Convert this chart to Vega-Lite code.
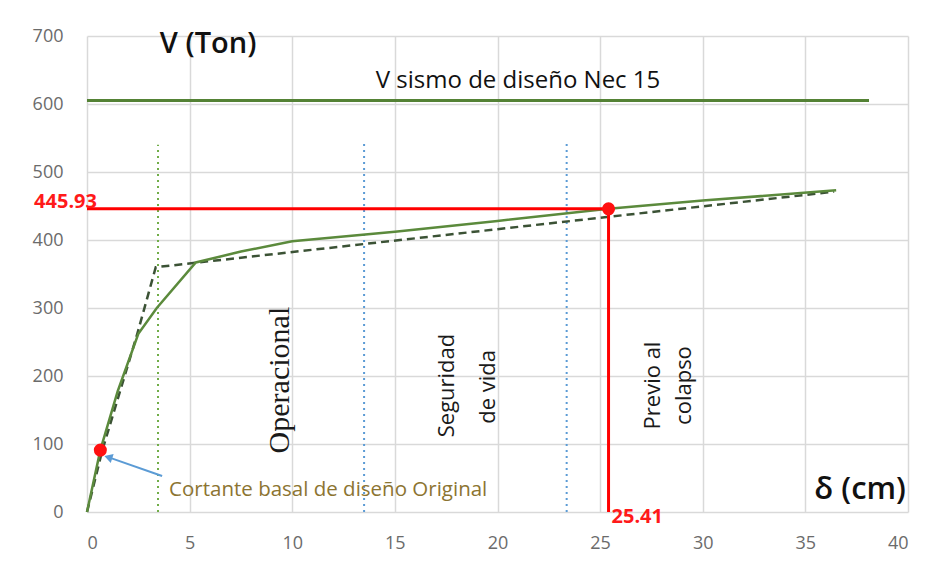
{
  "$schema": "https://vega.github.io/schema/vega-lite/v6.json",
  "width": 821,
  "height": 476,
  "autosize": {"type": "none"},
  "padding": {"left": 87, "top": 36, "right": 29, "bottom": 57},
  "background": "white",
  "config": {
    "view": {"stroke": null},
    "axis": {
      "grid": true,
      "gridColor": "#d9d9d9",
      "gridWidth": 1.5,
      "domain": false,
      "ticks": false,
      "labelFont": "Open Sans",
      "labelFontSize": 18,
      "labelColor": "#6b6b6b",
      "title": null
    }
  },
  "datasets": {
    "curve": [
      {"x": 0, "y": 0}, {"x": 0.65, "y": 91}, {"x": 1.5, "y": 178}, {"x": 2.5, "y": 262},
      {"x": 3.4, "y": 300}, {"x": 5.3, "y": 367}, {"x": 7.5, "y": 383}, {"x": 10, "y": 398},
      {"x": 15, "y": 412}, {"x": 20, "y": 428}, {"x": 25.41, "y": 445.93}, {"x": 30, "y": 458},
      {"x": 36.5, "y": 473}
    ],
    "bilinear": [
      {"x": 0, "y": 0}, {"x": 0.75, "y": 91}, {"x": 2.45, "y": 262}, {"x": 3.35, "y": 360}, {"x": 36.4, "y": 471}
    ],
    "limits": [
      {"x": 3.46, "bottom": 0, "top": 540, "kind": "g"},
      {"x": 13.5, "bottom": 0, "top": 547, "kind": "b"},
      {"x": 23.37, "bottom": 0, "top": 547, "kind": "b"}
    ],
    "arrow": [
      {"x": 3.66, "y": 53}, {"x": 1.1, "y": 80}
    ],
    "rot": [
      {"x": 17.56, "y": 186, "t": "Seguridad"},
      {"x": 19.56, "y": 184, "t": "de vida"},
      {"x": 27.56, "y": 186, "t": "Previo al"},
      {"x": 29.07, "y": 186, "t": "colapso"}
    ]
  },
  "layer": [
    {
      "data": {"name": "limits"},
      "mark": {"type": "rule", "strokeDash": [2, 4], "strokeWidth": 2},
      "encoding": {
        "x": {"field": "x", "type": "quantitative", "scale": {"domain": [0, 40], "nice": false}, "axis": {"values": [0, 5, 10, 15, 20, 25, 30, 35, 40], "labelPadding": 22}},
        "y": {"field": "bottom", "type": "quantitative", "scale": {"domain": [0, 700], "nice": false}, "axis": {"values": [0, 100, 200, 300, 400, 500, 600, 700], "labelPadding": 24}},
        "y2": {"field": "top"},
        "color": {"field": "kind", "type": "nominal", "scale": {"domain": ["g", "b"], "range": ["#70ad47", "#5b9bd5"]}, "legend": null}
      }
    },
    {
      "data": {"values": [{"x0": 0, "x1": 38.1, "y": 605}]},
      "mark": {"type": "rule", "color": "#548235", "strokeWidth": 3},
      "encoding": {
        "x": {"field": "x0", "type": "quantitative"},
        "x2": {"field": "x1"},
        "y": {"field": "y", "type": "quantitative"}
      }
    },
    {
      "data": {"name": "bilinear"},
      "mark": {"type": "line", "color": "#3b5235", "strokeWidth": 2.5, "strokeDash": [8, 5]},
      "encoding": {
        "x": {"field": "x", "type": "quantitative"},
        "y": {"field": "y", "type": "quantitative"}
      }
    },
    {
      "data": {"name": "curve"},
      "mark": {"type": "line", "color": "#5b8a3c", "strokeWidth": 2.5},
      "encoding": {
        "x": {"field": "x", "type": "quantitative"},
        "y": {"field": "y", "type": "quantitative"}
      }
    },
    {
      "data": {"values": [{"x0": 0, "x1": 25.41, "y": 445.93}]},
      "mark": {"type": "rule", "color": "#ff0000", "strokeWidth": 3},
      "encoding": {
        "x": {"field": "x0", "type": "quantitative"},
        "x2": {"field": "x1"},
        "y": {"field": "y", "type": "quantitative"}
      }
    },
    {
      "data": {"values": [{"x": 25.41, "y0": 0, "y1": 445.93}]},
      "mark": {"type": "rule", "color": "#ff0000", "strokeWidth": 3},
      "encoding": {
        "x": {"field": "x", "type": "quantitative"},
        "y": {"field": "y0", "type": "quantitative"},
        "y2": {"field": "y1"}
      }
    },
    {
      "data": {"values": [{"x": 0.65, "y": 91}, {"x": 25.41, "y": 445.93}]},
      "mark": {"type": "point", "filled": true, "color": "#ff1010", "size": 170, "opacity": 1},
      "encoding": {
        "x": {"field": "x", "type": "quantitative"},
        "y": {"field": "y", "type": "quantitative"}
      }
    },
    {
      "data": {"name": "arrow"},
      "mark": {"type": "line", "color": "#5b9bd5", "strokeWidth": 2},
      "encoding": {
        "x": {"field": "x", "type": "quantitative"},
        "y": {"field": "y", "type": "quantitative"}
      }
    },
    {
      "data": {"values": [{"x": 1.1, "y": 80}]},
      "mark": {"type": "point", "shape": "triangle", "filled": true, "color": "#5b9bd5", "size": 90, "angle": 288, "opacity": 1},
      "encoding": {
        "x": {"field": "x", "type": "quantitative"},
        "y": {"field": "y", "type": "quantitative"}
      }
    },
    {
      "data": {"values": [{"x": 9.4, "y": 194, "t": "Operacional"}]},
      "mark": {"type": "text", "angle": 270, "align": "center", "baseline": "middle", "color": "#1a1a1a", "font": "Liberation Serif", "fontSize": 30},
      "encoding": {
        "x": {"field": "x", "type": "quantitative"},
        "y": {"field": "y", "type": "quantitative"},
        "text": {"field": "t"}
      }
    },
    {
      "data": {"name": "rot"},
      "mark": {"type": "text", "angle": 270, "align": "center", "baseline": "middle", "color": "#1a1a1a", "font": "Open Sans", "fontSize": 22, "letterSpacing": 2},
      "encoding": {
        "x": {"field": "x", "type": "quantitative"},
        "y": {"field": "y", "type": "quantitative"},
        "text": {"field": "t"}
      }
    },
    {
      "data": {"values": [{"x": 5.9, "y": 688, "t": "V (Ton)"}]},
      "mark": {"type": "text", "align": "center", "baseline": "middle", "color": "#111111", "font": "Open Sans", "fontSize": 29, "fontWeight": 600},
      "encoding": {
        "x": {"field": "x", "type": "quantitative"},
        "y": {"field": "y", "type": "quantitative"},
        "text": {"field": "t"}
      }
    },
    {
      "data": {"values": [{"x": 21.0, "y": 634, "t": "V sismo de diseño Nec 15"}]},
      "mark": {"type": "text", "align": "center", "baseline": "middle", "color": "#111111", "font": "Open Sans", "fontSize": 24},
      "encoding": {
        "x": {"field": "x", "type": "quantitative"},
        "y": {"field": "y", "type": "quantitative"},
        "text": {"field": "t"}
      }
    },
    {
      "data": {"values": [{"x": 39.9, "y": 32, "t": "δ (cm)"}]},
      "mark": {"type": "text", "align": "right", "baseline": "middle", "color": "#111111", "font": "Open Sans", "fontSize": 31, "fontWeight": 600},
      "encoding": {
        "x": {"field": "x", "type": "quantitative"},
        "y": {"field": "y", "type": "quantitative"},
        "text": {"field": "t"}
      }
    },
    {
      "data": {"values": [{"x": 4.0, "y": 32, "t": "Cortante basal de diseño Original"}]},
      "mark": {"type": "text", "align": "left", "baseline": "middle", "color": "#8c7431", "font": "Open Sans", "fontSize": 20.5},
      "encoding": {
        "x": {"field": "x", "type": "quantitative"},
        "y": {"field": "y", "type": "quantitative"},
        "text": {"field": "t"}
      }
    },
    {
      "data": {"values": [{"x": 0, "y": 445.93, "t": "445.93"}]},
      "mark": {"type": "text", "align": "right", "baseline": "bottom", "dx": 10, "dy": 3, "color": "#ff1a1a", "fontWeight": "bold", "fontSize": 20, "font": "Open Sans"},
      "encoding": {
        "x": {"field": "x", "type": "quantitative"},
        "y": {"field": "y", "type": "quantitative"},
        "text": {"field": "t"}
      }
    },
    {
      "data": {"values": [{"x": 25.41, "y": 0, "t": "25.41"}]},
      "mark": {"type": "text", "align": "left", "baseline": "top", "dx": 3, "dy": -5, "color": "#ff1a1a", "fontWeight": "bold", "fontSize": 20, "font": "Open Sans"},
      "encoding": {
        "x": {"field": "x", "type": "quantitative"},
        "y": {"field": "y", "type": "quantitative"},
        "text": {"field": "t"}
      }
    }
  ]
}
